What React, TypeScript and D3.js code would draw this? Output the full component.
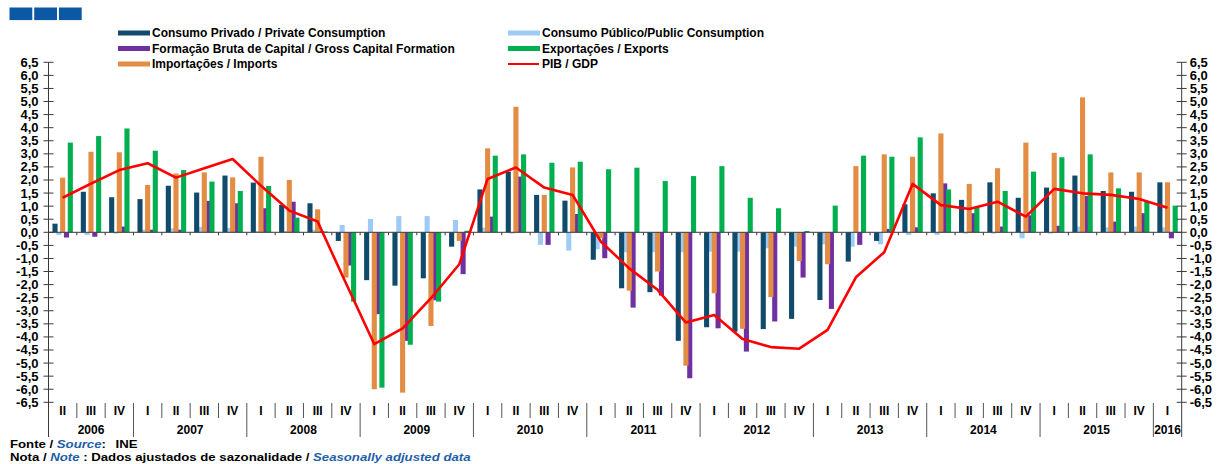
import React from 'react'
import * as d3 from 'd3'

// quarters 2006 II .. 2016 I
const quarters = ['II', 'III', 'IV',
  'I', 'II', 'III', 'IV', 'I', 'II', 'III', 'IV', 'I', 'II', 'III', 'IV',
  'I', 'II', 'III', 'IV', 'I', 'II', 'III', 'IV', 'I', 'II', 'III', 'IV',
  'I', 'II', 'III', 'IV', 'I', 'II', 'III', 'IV', 'I', 'II', 'III', 'IV', 'I']
const years = ['2006', '2007', '2008', '2009', '2010', '2011', '2012', '2013', '2014', '2015', '2016']
const quartersPerYear = [3, 4, 4, 4, 4, 4, 4, 4, 4, 4, 1]

const privado = [0.33, 1.55, 1.34, 1.27, 1.78, 1.52, 2.17, 1.9, 1.05, 1.11, -0.33, -1.83, -2.04, -1.76, -0.55, 1.64, 2.32, 1.43, 1.21, -1.05,
  -2.14, -2.29, -4.15, -3.63, -3.8, -3.7, -3.31, -2.59, -1.12, -0.33, 1.07, 1.49, 1.24, 1.91, 1.32, 1.71, 2.17, 1.58, 1.55, 1.91]
const publico = [-0.1, -0.1, -0.05, 0.1, 0.15, 0.2, 0.17, 0.05, 0.05, 0.1, 0.28, 0.51, 0.62, 0.62, 0.47, 0.18, -0.05, -0.48, -0.7, -0.65,
  -0.76, -0.76, -0.76, -0.74, -0.74, -0.61, -0.55, -0.46, -0.55, -0.46, -0.1, -0.1, -0.05, -0.05, -0.23, -0.05, 0.22, 0.19, 0.22, 0.19]
const fbcf = [-0.2, -0.17, 0.22, 0.1, 0.1, 1.2, 1.11, 0.92, 1.17, 0.05, -1.27, -3.13, -4.15, -2.6, -1.6, 0.6, 2.13, -0.48, 0.7, -0.99,
  -2.88, -2.42, -5.58, -3.67, -4.56, -3.41, -1.73, -2.93, -0.48, 0.13, 0.19, 1.87, 0.73, 0.22, 0.65, 0.25, 1.39, 0.41, 0.73, -0.23]
const exportacoes = [3.43, 3.68, 3.97, 3.12, 2.38, 1.94, 1.58, 1.77, 0.56, 0.03, -2.65, -5.94, -4.3, -2.65, 0.06, 2.93, 2.98, 2.66, 2.7, 2.41,
  2.47, 1.96, 2.15, 2.53, 1.32, 0.92, 0.05, 1.02, 2.93, 2.89, 3.63, 1.64, 0.95, 1.58, 2.32, 2.87, 2.98, 1.68, 1.17, 1.02]
const importacoes = [2.09, 3.08, 3.06, 1.81, 2.25, 2.29, 2.1, 2.89, 2.0, 0.88, -1.73, -6.0, -6.13, -3.58, -0.33, 3.21, 4.8, 1.43, 2.48, -0.22,
  -2.23, -1.5, -5.1, -2.33, -3.69, -2.48, -1.1, -1.22, 2.53, 2.98, 2.89, 3.78, 1.85, 2.45, 3.43, 3.04, 5.16, 2.29, 2.29, 1.91]
const pib = [1.32, 1.86, 2.38, 2.64, 2.09, 2.45, 2.8, 1.78, 0.83, 0.41, -1.95, -4.28, -3.67, -2.52, -1.22, 2.04, 2.48, 1.71, 1.43, -0.36,
  -1.38, -2.2, -3.45, -3.16, -4.08, -4.39, -4.45, -3.73, -1.72, -0.76, 1.85, 1.04, 0.89, 1.17, 0.6, 1.66, 1.49, 1.43, 1.27, 0.94]

const C = {
  privado: '#114b6c',
  publico: '#9dcbf5',
  fbcf: '#7030a0',
  exp: '#00b050',
  imp: '#e28c44',
  pib: '#ff0000',
  axis: '#3a3a3a',
  note: '#1f5ea8',
}

// left-to-right slot in each band, drawn in array order (later on top)
const barSeries = [
  { key: 'publico', data: publico, color: C.publico, slot: -1 },
  { key: 'privado', data: privado, color: C.privado, slot: -2 },
  { key: 'fbcf', data: fbcf, color: C.fbcf, slot: 1 },
  { key: 'imp', data: importacoes, color: C.imp, slot: 0 },
  { key: 'exp', data: exportacoes, color: C.exp, slot: 2 },
]

const legend = [
  { label: 'Consumo Privado / Private Consumption', color: C.privado, col: 0, row: 0 },
  { label: 'Consumo Público/Public Consumption', color: C.publico, col: 1, row: 0 },
  { label: 'Formação Bruta de Capital / Gross Capital Formation', color: C.fbcf, col: 0, row: 1 },
  { label: 'Exportações / Exports', color: C.exp, col: 1, row: 1 },
  { label: 'Importações / Imports', color: C.imp, col: 0, row: 2 },
  { label: 'PIB / GDP', color: C.pib, col: 1, row: 2, line: true },
]

const pt = d3.formatLocale({ decimal: ',', thousands: '.', grouping: [3], currency: ['', ''], minus: '-' })
const fmt = pt.format('.1f')

export default function App() {
  const width = 1222
  const height = 464
  const left = 48.5
  const right = 1181.7

  const x = d3.scaleBand<number>().domain(d3.range(quarters.length)).range([left, right]).padding(0)
  const y = d3.scaleLinear().domain([-6.5, 6.5]).range([402.3, 62.3])
  const bw = x.bandwidth()
  const barW = bw * 0.18
  const step = bw * 0.135
  const cx = (i: number) => (x(i) as number) + bw / 2

  const yTicks = d3.range(-6.5, 6.51, 0.5).map(v => Math.round(v * 10) / 10)
  const line = d3.line<number>().x((_, i) => cx(i)).y(d => y(d))

  // year boundaries (band index where each year starts)
  const yearStarts: number[] = []
  let acc = 0
  quartersPerYear.forEach(n => { yearStarts.push(acc); acc += n })

  const font = '"Liberation Sans", Arial, sans-serif'

  return (
    <svg width={width} height={height} style={{ position: 'absolute', left: 0, top: 0, background: '#fff' }}
      fontFamily={font} fontWeight="bold">
      {/* header squares */}
      {[0, 1, 2].map(i => (
        <rect key={i} x={9.5 + i * 24.7} y={7.5} width={22.8} height={12.6} fill="#0b58a5" />
      ))}

      {/* legend */}
      {legend.map(l => {
        const lx = l.col === 0 ? 118 : 508
        const ly = 33 + l.row * 15.5
        return (
          <g key={l.label}>
            {l.line
              ? <line x1={lx} x2={lx + 31} y1={ly} y2={ly} stroke={l.color} strokeWidth={2} />
              : <rect x={lx} y={ly - 2.5} width={32} height={5} fill={l.color} />}
            <text x={lx + 34} y={ly + 4} fontSize={12} fill="#000">{l.label}</text>
          </g>
        )
      })}

      {/* bars */}
      {barSeries.map(s => (
        <g key={s.key}>
          {s.data.map((v, i) => {
            const bx = cx(i) + s.slot * step - barW / 2
            return <rect key={i} x={bx} y={Math.min(y(v), y(0))} width={barW}
              height={Math.abs(y(v) - y(0))} fill={s.color} />
          })}
        </g>
      ))}

      {/* zero line with band ticks */}
      <line x1={left} x2={right} y1={y(0)} y2={y(0)} stroke={C.axis} strokeWidth={1} />
      {d3.range(1, quarters.length).map(i => (
        <line key={i} x1={x(i)} x2={x(i)} y1={y(0)} y2={y(0) + 3} stroke={C.axis} />
      ))}

      {/* PIB line */}
      <path d={line(pib) || ''} fill="none" stroke={C.pib} strokeWidth={2.6} strokeLinejoin="round" />

      {/* y axes */}
      {[left, right].map((ax, k) => (
        <g key={k}>
          <line x1={ax} x2={ax} y1={y(6.5)} y2={437} stroke={C.axis} />
          {yTicks.map(t => (
            <g key={t}>
              <line x1={ax - 5} x2={ax + 5} y1={y(t)} y2={y(t)} stroke={C.axis} />
              <text x={k === 0 ? ax - 10 : ax + 8} y={y(t) + 4.5} fontSize={13}
                textAnchor={k === 0 ? 'end' : 'start'} fill="#000">{fmt(t)}</text>
            </g>
          ))}
        </g>
      ))}

      {/* category axis */}
      {quarters.map((q, i) => (
        <text key={i} x={cx(i)} y={415} fontSize={12} textAnchor="middle" fill="#000">{q}</text>
      ))}
      {d3.range(1, quarters.length).map(i => {
        const isYear = yearStarts.includes(i)
        return <line key={i} x1={x(i)} x2={x(i)} y1={403} y2={isYear ? 437 : 418} stroke="#555" />
      })}
      {years.map((yr, k) => {
        const s = yearStarts[k]
        const e = s + quartersPerYear[k]
        const mid = ((x(s) as number) + (x(e - 1) as number) + bw) / 2
        return <text key={yr} x={mid} y={434} fontSize={12} textAnchor="middle" fill="#000">{yr}</text>
      })}

      {/* source / note (original text is horizontally stretched) */}
      <g transform="translate(10,0) scale(1.2,1)">
        <text x={0} y={448} fontSize={11} fill="#000">
          Fonte / <tspan fill={C.note} fontStyle="italic">Source</tspan>:<tspan dx={8}>INE</tspan>
        </text>
        <text x={0} y={461} fontSize={11} fill="#000">
          Nota / <tspan fill={C.note} fontStyle="italic">Note</tspan> : Dados ajustados de sazonalidade / <tspan fill={C.note} fontStyle="italic">Seasonally adjusted data</tspan>
        </text>
      </g>
    </svg>
  )
}
